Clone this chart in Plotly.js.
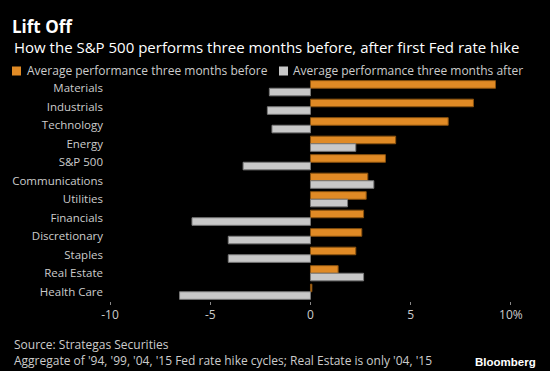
<!DOCTYPE html>
<html><head><meta charset="utf-8">
<script src="https://cdn.plot.ly/plotly-3.0.1.min.js"></script>
<style>html,body{margin:0;padding:0;background:#000;}</style>
</head><body>
<div id="chart" style="width:550px;height:371px;"></div>
<script>
var categories = ["Materials","Industrials","Technology","Energy","S&P 500","Communications","Utilities","Financials","Discretionary","Staples","Real Estate","Health Care"];
var before = [9.23, 8.13, 6.87, 4.25, 3.74, 2.86, 2.78, 2.65, 2.56, 2.26, 1.38, 0.07];
var after = [-2.05, -2.15, -1.92, 2.26, -3.36, 3.16, 1.85, -5.91, -4.10, -4.10, 2.65, -6.53];
var seriesNames = ["Average performance three months before", "Average performance three months after"];
var seriesColors = ["#e08a25", "#c8c8c8"];
var tickVals = [-10, -5, 0, 5, 10];
var tickText = ["-10", "-5", "0", "5", "10%"];

var F = "Open Sans, sans-serif";
var W = 550, H = 371, ML = 108, MR = 11, MT = 79, MB = 70;
var PW = W - ML - MR, PH = H - MT - MB;
function px(x){ return (x - ML) / PW; }
function py(y){ return (H - MB - y) / PH; }

var data = [
  {type:"bar", orientation:"h", name:seriesNames[0], y:categories, x:before,
   marker:{color:seriesColors[0], line:{color:"#8a520f", width:1}}},
  {type:"bar", orientation:"h", name:seriesNames[1], y:categories, x:after,
   marker:{color:seriesColors[1], line:{color:"#7a7a7a", width:1}}}
];
var layout = {
  width:W, height:H,
  paper_bgcolor:"#000", plot_bgcolor:"#000",
  margin:{l:ML, r:MR, t:MT, b:MB, autoexpand:false},
  barmode:"group", bargap:0.18, bargroupgap:0,
  font:{family:F, color:"#cccccc", size:12},
  title:{text:"<b>Lift Off</b>", x:12/W, xanchor:"left", xref:"container", y:1-27/H, yanchor:"middle", yref:"container",
         font:{family:F, size:17, color:"#ffffff"}},
  showlegend:false,
  xaxis:{range:[-10.1, 11.4], tickvals:tickVals, ticktext:tickText, showgrid:false, zeroline:false,
         ticks:"outside", ticklen:3, tickcolor:"#888", showline:false, tickfont:{size:12, color:"#cccccc"}, fixedrange:true},
  yaxis:{autorange:"reversed", showgrid:false, zeroline:false, ticks:"", ticklabelstandoff:4,
         tickfont:{size:11.5, color:"#cccccc"}, fixedrange:true},
  shapes:[
    {type:"rect", xref:"paper", yref:"paper", x0:px(12), x1:px(21), y0:py(75.5), y1:py(66.5), fillcolor:seriesColors[0], line:{width:0}},
    {type:"rect", xref:"paper", yref:"paper", x0:px(279), x1:px(288), y0:py(75.5), y1:py(66.5), fillcolor:seriesColors[1], line:{width:0}}
  ],
  annotations:[
    {text:"How the S&P 500 performs three months before, after first Fed rate hike", xref:"paper", yref:"paper",
     x:px(12), xanchor:"left", y:py(47), yanchor:"middle", showarrow:false,
     font:{family:F, size:15, color:"#ffffff"}},
    {text:seriesNames[0], xref:"paper", yref:"paper", x:px(25), xanchor:"left", y:py(71), yanchor:"middle", showarrow:false,
     font:{family:F, size:12, color:"#cccccc"}},
    {text:seriesNames[1], xref:"paper", yref:"paper", x:px(291), xanchor:"left", y:py(71), yanchor:"middle", showarrow:false,
     font:{family:F, size:12, color:"#cccccc"}},
    {text:"Source: Strategas Securities", xref:"paper", yref:"paper", x:px(12), xanchor:"left",
     y:py(344), yanchor:"middle", showarrow:false, font:{family:F, size:12, color:"#cccccc"}},
    {text:"Aggregate of '94, '99, '04, '15 Fed rate hike cycles; Real Estate is only '04, '15", xref:"paper", yref:"paper",
     x:px(12), xanchor:"left", y:py(360), yanchor:"middle", showarrow:false,
     font:{family:F, size:12, color:"#cccccc"}},
    {text:"<b>Bloomberg</b>", xref:"paper", yref:"paper", x:px(538), xanchor:"right",
     y:py(362), yanchor:"middle", showarrow:false, font:{family:"Liberation Sans, Arial, sans-serif", size:11.5, color:"#ffffff"}}
  ]
};
Plotly.newPlot("chart", data, layout, {displayModeBar:false, staticPlot:true});
</script>
</body></html>
